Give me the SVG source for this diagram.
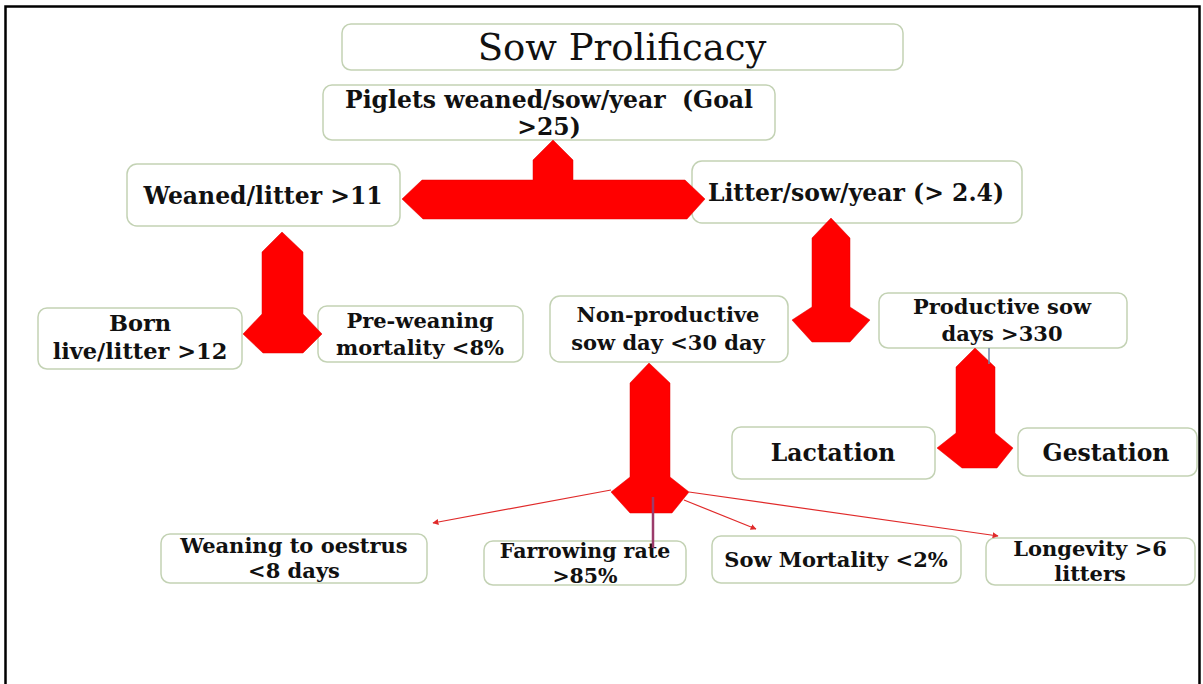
<svg xmlns="http://www.w3.org/2000/svg" width="1203" height="684" viewBox="0 0 1203 684">
<defs>
<style>
.box{fill:#fff;stroke:#c3d2b4;stroke-width:1.5}
.t{font-family:"DejaVu Serif","Liberation Serif",serif;font-weight:bold;font-size:21px;fill:#111;text-anchor:middle}
.l{font-size:23.5px}
.title{font-family:"DejaVu Serif","Liberation Serif",serif;font-size:37px;fill:#111;text-anchor:middle}
.big{fill:#ff0000;stroke:#e00000;stroke-width:0.5}
.thin{stroke:#e02a2a;stroke-width:1.2;fill:none;marker-end:url(#ah)}
</style>
<marker id="ah" viewBox="0 0 10 10" refX="9" refY="5" markerWidth="6" markerHeight="6" orient="auto" markerUnits="userSpaceOnUse">
<path d="M0,0 L10,5 L0,10 z" fill="#e02a2a"/>
</marker>
</defs>
<rect x="0" y="0" width="1203" height="684" fill="#fff"/>
<path d="M5.5,684 L5.5,6.5 L1199.5,6.5 L1199.5,684" fill="none" stroke="#000" stroke-width="2.5"/>

<g id="title">
<rect class="box" x="342" y="24" width="561" height="46" rx="9"/>
<text class="title" x="622" y="60">Sow Prolificacy</text>
</g>
<g id="piglets">
<rect class="box" x="323" y="85" width="452" height="55" rx="9"/>
<text class="t l" x="549" y="108" xml:space="preserve">Piglets weaned/sow/year  (Goal<tspan x="549" y="135">&gt;25)</tspan></text>
</g>
<g id="weaned">
<rect class="box" x="127" y="164" width="273" height="62" rx="10"/>
<text class="t l" x="263" y="204">Weaned/litter &gt;11</text>
</g>
<g id="litter">
<rect class="box" x="692" y="161" width="330" height="62" rx="10"/>
<text class="t l" x="856" y="201">Litter/sow/year (&gt; 2.4)</text>
</g>
<g id="born">
<rect class="box" x="38" y="308" width="204" height="61" rx="9"/>
<text class="t" style="font-size:22.5px" x="140" y="331">Born<tspan x="140" y="359">live/litter &gt;12</tspan></text>
</g>
<g id="preweaning">
<rect class="box" x="318" y="306" width="205" height="56" rx="9"/>
<text class="t" x="420" y="328">Pre-weaning<tspan x="420" y="355">mortality &lt;8%</tspan></text>
</g>
<g id="nonproductive">
<rect class="box" x="550" y="296" width="238" height="66" rx="10"/>
<text class="t" x="668" y="322">Non-productive<tspan x="668" y="350">sow day &lt;30 day</tspan></text>
</g>
<g id="productive">
<rect class="box" x="879" y="293" width="248" height="55" rx="9"/>
<text class="t" x="1002" y="314">Productive sow<tspan x="1002" y="341">days &gt;330</tspan></text>
</g>
<g id="lactation">
<rect class="box" x="732" y="427" width="203" height="52" rx="9"/>
<text class="t l" x="833" y="461">Lactation</text>
</g>
<g id="gestation">
<rect class="box" x="1018" y="428" width="179" height="48" rx="9"/>
<text class="t l" x="1106" y="461">Gestation</text>
</g>
<g id="weaning">
<rect class="box" x="161" y="534" width="266" height="49" rx="9"/>
<text class="t" x="294" y="553">Weaning to oestrus<tspan x="294" y="578">&lt;8 days</tspan></text>
</g>
<g id="farrowing">
<rect class="box" x="484" y="541" width="202" height="44" rx="9"/>
<text class="t" style="font-size:20.5px" x="585" y="558">Farrowing rate<tspan x="585" y="583">&gt;85%</tspan></text>
</g>
<g id="mortality">
<rect class="box" x="712" y="536" width="249" height="47" rx="9"/>
<text class="t" x="836" y="567">Sow Mortality &lt;2%</text>
</g>
<g id="longevity">
<rect class="box" x="986" y="538" width="209" height="47" rx="9"/>
<text class="t" x="1090" y="556">Longevity &gt;6<tspan x="1090" y="581">litters</tspan></text>
</g>

<g id="connectors">
<polygon class="big" points="402,199 422,180 533,180 533,160 553,140 573,160 573,180 685,180 705,199 687,219 423,219"/>
<polygon class="big" points="282,232 303,252 303,314 322,334 303,353 263,353 243,334 262,314 262,252"/>
<polygon class="big" points="831,218 850,238 850,307 870,320 850,342 812,342 792,320 812,307 812,238"/>
<polygon class="big" points="975,348 995,367 995,433 1013,448 997,468 962,468 937,448 956,433 956,367"/>
<polygon class="big" points="649,363 670,383 670,477 689,492 672,513 630,513 611,492 630,477 630,383"/>
<line x1="989" y1="348" x2="989" y2="364" stroke="#7085a8" stroke-width="1.5"/>
<line x1="653" y1="497" x2="653" y2="548" stroke="#9b3b6b" stroke-width="2.5"/>
<line class="thin" x1="611" y1="490" x2="433" y2="523"/>
<line class="thin" x1="684" y1="500" x2="756" y2="529"/>
<line class="thin" x1="689" y1="492" x2="998" y2="536"/>
</g>
</svg>
